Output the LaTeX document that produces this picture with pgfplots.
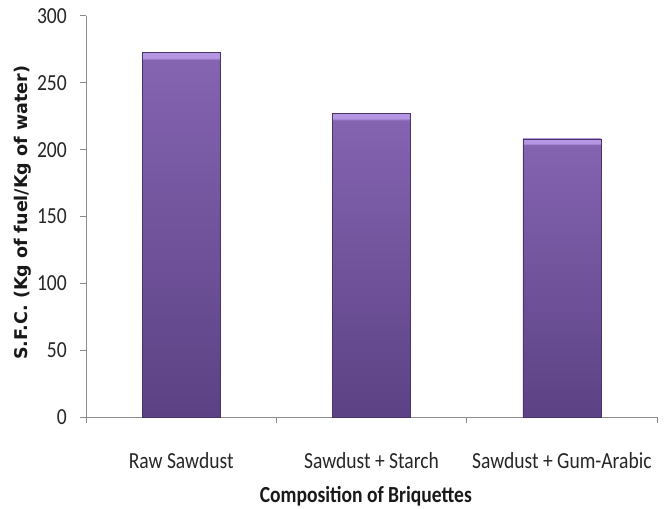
\documentclass[border=0pt]{standalone}
\usepackage{pgfplots}
\pgfplotsset{compat=1.18}
\usepackage{fontspec}
\setmainfont{Carlito}[FakeStretch=0.85]
\newfontfamily\ylabfont{DejaVu Sans}
\definecolor{bartop}{HTML}{8463B1}
\definecolor{barbot}{HTML}{5C4284}
\definecolor{barlight}{HTML}{B596E3}
\definecolor{axgray}{HTML}{8C8C8C}
\pgfdeclareverticalshading{barshade}{100bp}{color(0bp)=(barbot); color(25bp)=(barbot); color(73.9bp)=(bartop); color(74.2bp)=(barlight); color(100bp)=(barlight)}
\pgfplotsset{mybar/.style={ybar, bar width=0.41, bar shift=0pt, draw=barbot!80!black, line width=0.4pt, shading=barshade, mark=none}}
\begin{document}
\begin{tikzpicture}
\begin{axis}[
  name=ax,
  scale only axis, width=571pt, height=401pt,
  xmin=-0.5, xmax=2.5, ymin=0, ymax=300,
  ytick={0,50,...,300},
  xtick={0,1,2},
  xticklabels={Raw Sawdust, Sawdust + Starch, Sawdust + Gum-Arabic},
  minor xtick={-0.5,0.5,1.5,2.5},
  major x tick style={draw=none},
  axis x line*=bottom, axis y line*=left,
  axis line style={axgray, line width=1pt, -},
  tick style={axgray, line width=1pt},
  tick align=outside,
  major tick length=6pt, minor tick length=6pt,
  tick label style={font=\fontsize{23}{26}\selectfont, text=black!85},
  /pgf/number format/assume math mode=true,
  yticklabel style={anchor=east, inner sep=0pt, xshift=-13pt},
  xticklabel style={anchor=base, inner sep=0pt, yshift=-45pt},
  xlabel={Composition of Briquettes},
  xlabel style={font=\bfseries\fontsize{23}{26}\selectfont, text=black!90, anchor=base, at={(axis description cs:0.49,-0.212)}},
  ylabel={\ylabfont\bfseries S.F.C. (Kg of fuel/Kg of water)},
  ylabel style={font=\fontsize{17.5}{20}\selectfont, text=black!90, anchor=center, rotate=0, at={(axis description cs:-0.111,0.509)}},
  clip=false,
]
\addplot[mybar] coordinates {(0,273)};
\addplot[mybar] coordinates {(1,227)};
\addplot[mybar] coordinates {(2,208)};
\end{axis}
\path ([shift={(-86pt,-91pt)}]ax.south west) rectangle ([shift={(8pt,16pt)}]ax.north east);
\end{tikzpicture}
\end{document}
